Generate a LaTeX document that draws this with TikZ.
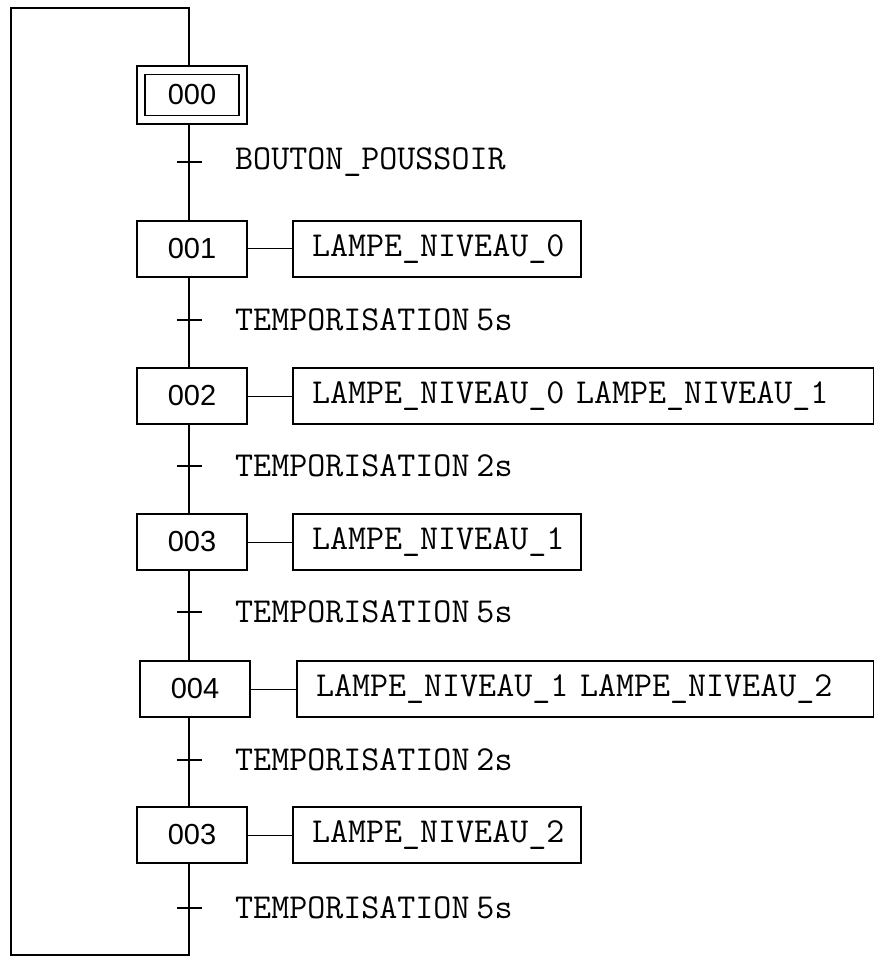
\documentclass[tikz,border=0pt]{standalone}
\usepackage{fontspec}
\newfontfamily\stepfont{Liberation Sans}
\begin{document}
\begin{tikzpicture}[x=1pt,y=-1pt,
  line/.style={line width=2pt},
  txt/.style={font=\ttfamily\fontsize{35}{36}\selectfont},
  stepbox/.style={draw,line width=2pt,minimum width=110pt,minimum height=56pt,inner sep=0pt,font=\stepfont\fontsize{29}{30}\selectfont},
  actbox/.style={draw,line width=2pt,minimum height=56pt,inner ysep=0pt,inner xsep=19pt,anchor=west,align=left,txt},
  trlabel/.style={anchor=west,inner sep=0pt,txt},
  link/.style={line width=1pt}]
\useasboundingbox (0,0) rectangle (874,957);
\newcommand{\gapsp}{\hspace{0.2em}}
% initial step
\node[draw,line width=1.2pt,minimum width=110pt,minimum height=58pt,inner sep=0pt] (s0) at (192,95) {};
\node[draw,line width=1.2pt,minimum width=94pt,minimum height=41pt,inner sep=0pt,font=\stepfont\fontsize{29}{30}\selectfont] (s0in) at (s0.center) {000};
% steps
\node[stepbox] (s1) at (192,249) {001};
\node[stepbox] (s2) at (192,396) {002};
\node[stepbox] (s3) at (192,542) {003};
\node[stepbox] (s4) at (195,689) {004};
\node[stepbox] (s5) at (192,835) {003};
% actions
\node[actbox,text width=250pt] (a1) at (292,249) {LAMPE\_NIVEAU\_0};
\node[actbox,text width=543pt] (a2) at (292,396) {LAMPE\_NIVEAU\_0 LAMPE\_NIVEAU\_1};
\node[actbox,text width=250pt] (a3) at (292,542) {LAMPE\_NIVEAU\_1};
\node[actbox,text width=539pt] (a4) at (296,689) {LAMPE\_NIVEAU\_1 LAMPE\_NIVEAU\_2};
\node[actbox,text width=250pt] (a5) at (292,835) {LAMPE\_NIVEAU\_2};
\foreach \i in {1,...,5} {\draw[link] (s\i.east) -- (a\i.west);}
% main line
\coordinate (t1) at (189,162);
\coordinate (t2) at (189,320);
\coordinate (t3) at (189,466);
\coordinate (t4) at (189,612);
\coordinate (t5) at (189,760);
\coordinate (t6) at (189,908);
\coordinate (bl) at (11,955);
\coordinate (tl) at (11,8);
\coordinate (br) at (189,955);
\coordinate (tr) at (189,8);
\draw[line] (s0.south -| t1) -- (s1.north -| t1);
\draw[line] (s1.south -| t2) -- (s2.north -| t2);
\draw[line] (s2.south -| t3) -- (s3.north -| t3);
\draw[line] (s3.south -| t4) -- (s4.north -| t4);
\draw[line] (s4.south -| t5) -- (s5.north -| t5);
\draw[line] (s5.south -| t6) -- (br) -- (bl) -- (tl) -- (tr) -- (s0.north -| tr);
% transitions
\foreach \i in {1,...,6} {\draw[line] ([xshift=-12pt]t\i) -- ([xshift=13pt]t\i);}
\node[trlabel] (l1) at (235,162) {BOUTON\_POUSSOIR};
\node[trlabel] (l2) at (235,320) {TEMPORISATION\gapsp 5s};
\node[trlabel] (l3) at (235,466) {TEMPORISATION\gapsp 2s};
\node[trlabel] (l4) at (235,612) {TEMPORISATION\gapsp 5s};
\node[trlabel] (l5) at (235,760) {TEMPORISATION\gapsp 2s};
\node[trlabel] (l6) at (235,908) {TEMPORISATION\gapsp 5s};
\end{tikzpicture}
\end{document}
